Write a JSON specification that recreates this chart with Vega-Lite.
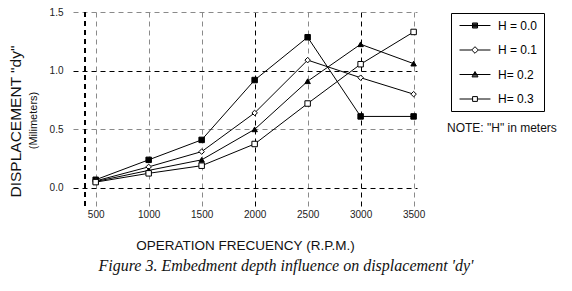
{
  "$schema": "https://vega.github.io/schema/vega-lite/v6.json",
  "autosize": "none",
  "width": 344,
  "height": 195,
  "padding": {"left": 73, "top": 12, "right": 155, "bottom": 84},
  "background": "white",
  "config": {
    "view": {"stroke": null},
    "font": "Liberation Sans",
    "axis": {"labelFont": "Liberation Sans", "titleFont": "Liberation Sans", "labelColor": "#222", "titleColor": "#111", "titleFontWeight": "normal"}
  },
  "title": {
    "text": "Figure 3. Embedment depth influence on displacement 'dy'",
    "orient": "bottom",
    "anchor": "middle",
    "font": "Liberation Serif",
    "fontStyle": "italic",
    "fontWeight": "normal",
    "fontSize": 16,
    "color": "#111",
    "offset": 6,
    "dx": 41
  },
  "data": {
    "values": [
      {"rpm": 500, "dy": 0.07, "H": "H = 0.0"},
      {"rpm": 1000, "dy": 0.24, "H": "H = 0.0"},
      {"rpm": 1500, "dy": 0.41, "H": "H = 0.0"},
      {"rpm": 2000, "dy": 0.92, "H": "H = 0.0"},
      {"rpm": 2500, "dy": 1.285, "H": "H = 0.0"},
      {"rpm": 3000, "dy": 0.61, "H": "H = 0.0"},
      {"rpm": 3500, "dy": 0.61, "H": "H = 0.0"},
      {"rpm": 500, "dy": 0.06, "H": "H = 0.1"},
      {"rpm": 1000, "dy": 0.18, "H": "H = 0.1"},
      {"rpm": 1500, "dy": 0.31, "H": "H = 0.1"},
      {"rpm": 2000, "dy": 0.64, "H": "H = 0.1"},
      {"rpm": 2500, "dy": 1.09, "H": "H = 0.1"},
      {"rpm": 3000, "dy": 0.94, "H": "H = 0.1"},
      {"rpm": 3500, "dy": 0.80, "H": "H = 0.1"},
      {"rpm": 500, "dy": 0.055, "H": "H= 0.2"},
      {"rpm": 1000, "dy": 0.15, "H": "H= 0.2"},
      {"rpm": 1500, "dy": 0.24, "H": "H= 0.2"},
      {"rpm": 2000, "dy": 0.50, "H": "H= 0.2"},
      {"rpm": 2500, "dy": 0.91, "H": "H= 0.2"},
      {"rpm": 3000, "dy": 1.225, "H": "H= 0.2"},
      {"rpm": 3500, "dy": 1.06, "H": "H= 0.2"},
      {"rpm": 500, "dy": 0.05, "H": "H= 0.3"},
      {"rpm": 1000, "dy": 0.125, "H": "H= 0.3"},
      {"rpm": 1500, "dy": 0.19, "H": "H= 0.3"},
      {"rpm": 2000, "dy": 0.375, "H": "H= 0.3"},
      {"rpm": 2500, "dy": 0.72, "H": "H= 0.3"},
      {"rpm": 3000, "dy": 1.055, "H": "H= 0.3"},
      {"rpm": 3500, "dy": 1.33, "H": "H= 0.3"}
    ]
  },
  "resolve": {
    "axis": {"y": "independent"},
    "scale": {"shape": "independent"},
    "legend": {"shape": "independent"}
  },
  "layer": [
    {
      "mark": {"type": "rule", "color": "black", "strokeDash": [5, 4], "strokeWidth": 1},
      "encoding": {
        "x": {"datum": 400, "type": "quantitative", "scale": {"domain": [286, 3532], "nice": false, "zero": false}}
      }
    },
    {
      "mark": {"type": "line", "color": "black", "strokeWidth": 1},
      "encoding": {
        "x": {
          "field": "rpm", "type": "quantitative",
          "scale": {"domain": [286, 3532], "nice": false, "zero": false},
          "axis": {
            "values": [500, 1000, 1500, 2000, 2500, 3000, 3500],
            "format": "d",
            "ticks": false, "domain": false,
            "labelPadding": 2, "labelFontSize": 10,
            "grid": true,
            "gridDash": [5, 4],
            "gridColor": {"expr": "datum.value == 2000 || datum.value == 3000 ? 'black' : '#8a8a8a'"},
            "gridWidth": 1,
            "title": "OPERATION FRECUENCY  (R.P.M.)",
            "titleFontSize": 13.5,
            "titlePadding": 19
          }
        },
        "y": {
          "field": "dy", "type": "quantitative",
          "scale": {"domain": [-0.162, 1.5], "nice": false, "zero": false},
          "axis": {
            "values": [0, 0.5, 1, 1.5],
            "format": ".1f",
            "ticks": false, "domain": false,
            "labelPadding": 10, "labelFontSize": 10,
            "grid": true,
            "gridDash": [5, 4],
            "gridColor": {"expr": "datum.value == 0 || datum.value == 1 ? 'black' : '#8a8a8a'"},
            "gridWidth": 1,
            "title": "(Milimeters)",
            "titleFontSize": 11,
            "titleX": -40,
            "titleY": 108,
            "titleAngle": 270,
            "titleAlign": "center",
            "titleBaseline": "middle"
          }
        },
        "detail": {"field": "H", "type": "nominal"}
      }
    },
    {
      "mark": {"type": "point", "filled": true, "stroke": "black", "strokeWidth": 1, "size": 30, "opacity": 1},
      "encoding": {
        "x": {"field": "rpm", "type": "quantitative"},
        "y": {
          "field": "dy", "type": "quantitative",
          "axis": {
            "orient": "left",
            "labels": false, "ticks": false, "domain": false, "grid": false,
            "title": "DISPLACEMENT  \"dy\"",
            "titleFontSize": 15.5,
            "titleX": -58,
            "titleY": 109,
            "titleAngle": 270,
            "titleAlign": "center",
            "titleBaseline": "middle"
          }
        },
        "shape": {
          "field": "H", "type": "nominal",
          "scale": {"domain": ["H = 0.0", "H = 0.1", "H= 0.2", "H= 0.3"], "range": ["square", "diamond", "triangle-up", "square"]},
          "legend": null
        },
        "fill": {
          "field": "H", "type": "nominal",
          "scale": {"domain": ["H = 0.0", "H = 0.1", "H= 0.2", "H= 0.3"], "range": ["black", "white", "black", "white"]},
          "legend": null
        }
      }
    },
    {
      "mark": {"type": "point", "filled": false, "stroke": "black", "strokeWidth": 1, "opacity": 0},
      "encoding": {
        "x": {"field": "rpm", "type": "quantitative"},
        "y": {"field": "dy", "type": "quantitative", "axis": null},
        "shape": {
          "field": "H", "type": "nominal",
          "scale": {
            "domain": ["H = 0.0", "H = 0.1", "H= 0.2", "H= 0.3"],
            "range": [
              "M-2.58,0H2.58M-0.42,-0.42H0.42V0.42H-0.42ZM-0.42,-0.28H0.42M-0.42,-0.14H0.42M-0.42,0.14H0.42M-0.42,0.28H0.42",
              "M-2.58,0H-0.55M0.55,0H2.58M0,-0.55L0.55,0L0,0.55L-0.55,0Z",
              "M-2.58,0H2.58M0,-0.5L0.5,0.4L-0.5,0.4ZM-0.1,-0.3H0.1M-0.2,-0.15H0.2M-0.3,0.05H0.3M-0.4,0.25H0.4",
              "M-2.58,0H-0.4M0.4,0H2.58M-0.4,-0.4H0.4V0.4H-0.4Z"
            ]
          },
          "legend": {
            "title": null,
            "orient": "none",
            "legendX": 378,
            "legendY": 1,
            "strokeColor": "black",
            "fillColor": "white",
            "padding": 6,
            "symbolSize": 144,
            "symbolOffset": 11.5,
            "symbolOpacity": 1,
            "symbolStrokeWidth": 1,
            "rowPadding": 11.5,
            "labelOffset": 16.5,
            "labelFont": "Liberation Sans",
            "labelFontSize": 12,
            "labelColor": "black",
            "labelExpr": "datum.label + '\u00a0\u00a0\u00a0\u00a0\u00a0\u00a0'"
          }
        }
      }
    },
    {
      "data": {"values": [{"note": "NOTE: \"H\" in meters"}]},
      "mark": {"type": "text", "align": "left", "baseline": "middle", "font": "Liberation Sans", "fontSize": 12, "color": "#111", "clip": false},
      "encoding": {
        "x": {"datum": 3815, "type": "quantitative"},
        "y": {"datum": 0.511, "type": "quantitative", "axis": null},
        "text": {"field": "note"}
      }
    }
  ]
}
